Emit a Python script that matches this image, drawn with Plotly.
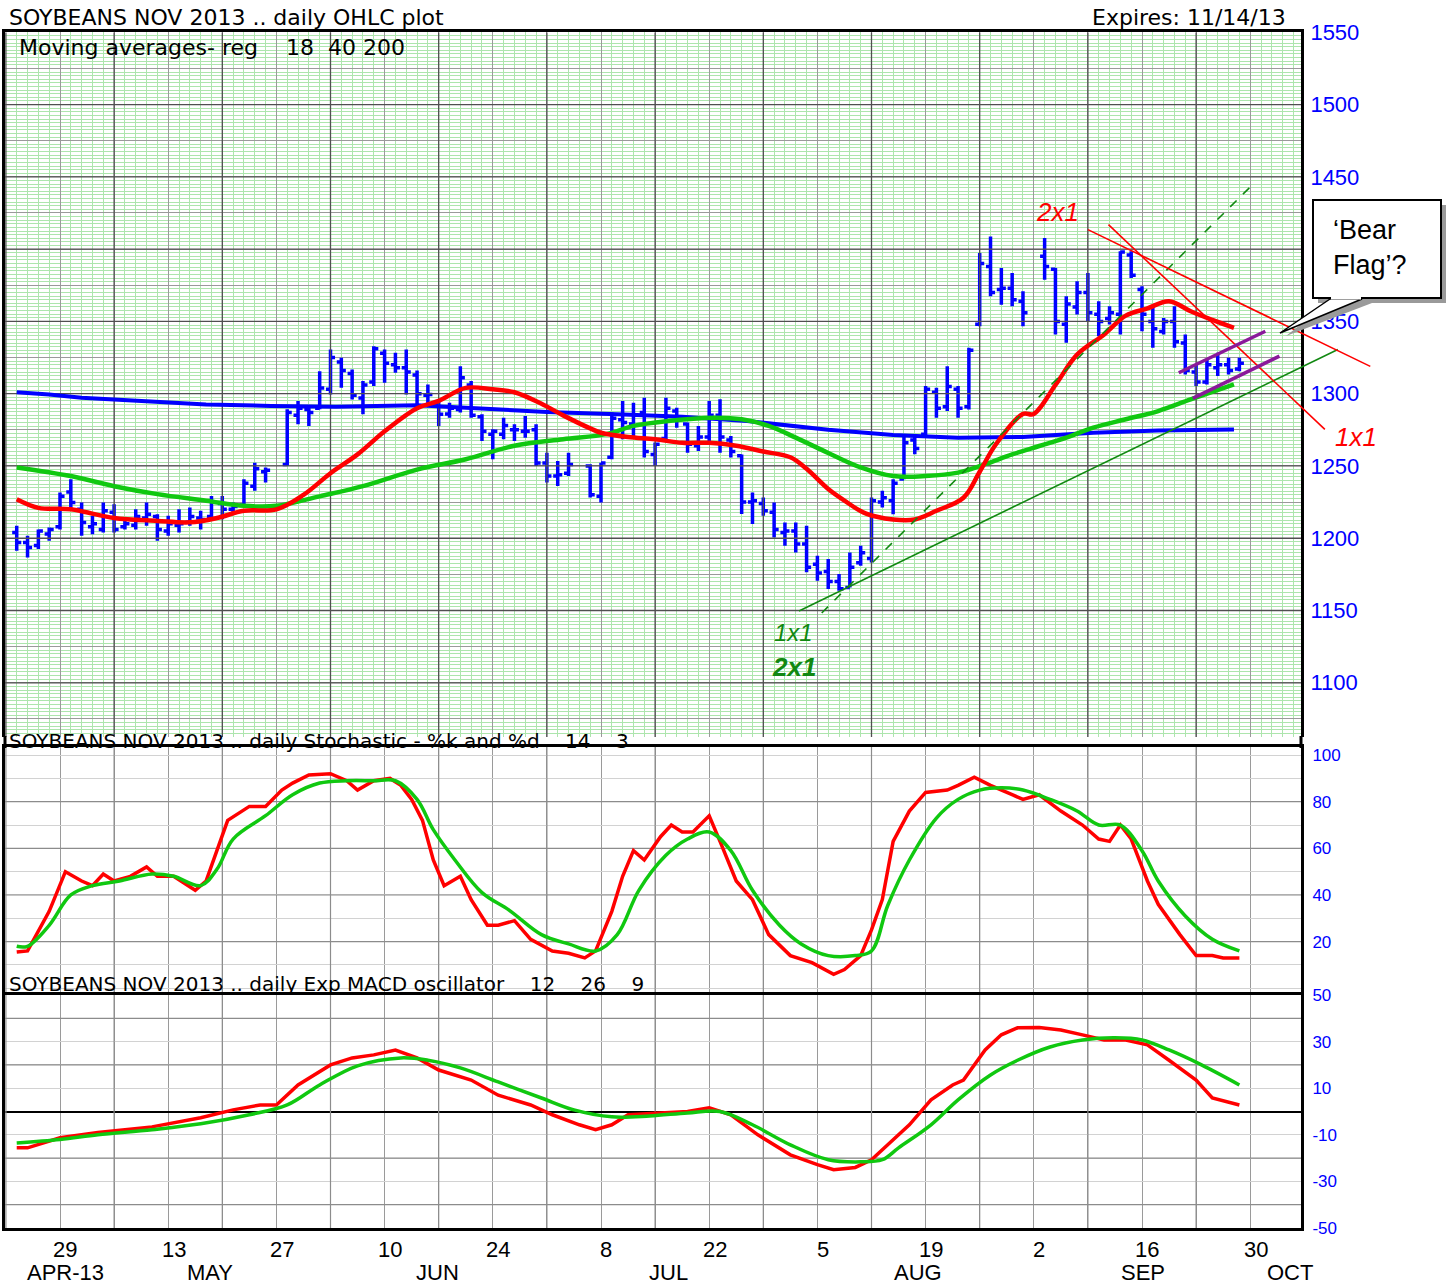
import numpy as np
import plotly.graph_objects as go

# ---------------- data ----------------
bar_dates = [
    "2013-04-23", "2013-04-24", "2013-04-25", "2013-04-26", "2013-04-29", "2013-04-30", "2013-05-01", "2013-05-02",
    "2013-05-03", "2013-05-06", "2013-05-07", "2013-05-08", "2013-05-09", "2013-05-10", "2013-05-13", "2013-05-14",
    "2013-05-15", "2013-05-16", "2013-05-17", "2013-05-20", "2013-05-21", "2013-05-22", "2013-05-23", "2013-05-24",
    "2013-05-28", "2013-05-29", "2013-05-30", "2013-05-31", "2013-06-03", "2013-06-04", "2013-06-05", "2013-06-06",
    "2013-06-07", "2013-06-10", "2013-06-11", "2013-06-12", "2013-06-13", "2013-06-14", "2013-06-17", "2013-06-18",
    "2013-06-19", "2013-06-20", "2013-06-21", "2013-06-24", "2013-06-25", "2013-06-26", "2013-06-27", "2013-06-28",
    "2013-07-01", "2013-07-02", "2013-07-03", "2013-07-05", "2013-07-08", "2013-07-09", "2013-07-10", "2013-07-11",
    "2013-07-12", "2013-07-15", "2013-07-16", "2013-07-17", "2013-07-18", "2013-07-19", "2013-07-22", "2013-07-23",
    "2013-07-24", "2013-07-25", "2013-07-26", "2013-07-29", "2013-07-30", "2013-07-31", "2013-08-01", "2013-08-02",
    "2013-08-05", "2013-08-06", "2013-08-07", "2013-08-08", "2013-08-09", "2013-08-12", "2013-08-13", "2013-08-14",
    "2013-08-15", "2013-08-16", "2013-08-19", "2013-08-20", "2013-08-21", "2013-08-22", "2013-08-23", "2013-08-26",
    "2013-08-27", "2013-08-28", "2013-08-29", "2013-08-30", "2013-09-03", "2013-09-04", "2013-09-05", "2013-09-06",
    "2013-09-09", "2013-09-10", "2013-09-11", "2013-09-12", "2013-09-13", "2013-09-16", "2013-09-17", "2013-09-18",
    "2013-09-19", "2013-09-20", "2013-09-23", "2013-09-24", "2013-09-25", "2013-09-26", "2013-09-27",
]
bar_open = [
    1204, 1197, 1195, 1203, 1208, 1232, 1220, 1208, 1206, 1218, 1208, 1209, 1214, 1215, 1205, 1209,
    1211, 1214, 1215, 1224, 1220, 1223, 1236, 1246, 1251, 1285, 1289, 1290, 1303, 1322, 1314, 1297,
    1308, 1328, 1320, 1318, 1313, 1299, 1293, 1286, 1289, 1306, 1284, 1272, 1272, 1275, 1274, 1275,
    1252, 1243, 1245, 1250, 1229, 1256, 1282, 1279, 1287, 1258, 1269, 1288, 1279, 1264, 1270, 1285,
    1268, 1257, 1225, 1224, 1218, 1204, 1205, 1196, 1182, 1177, 1170, 1166, 1183, 1186, 1225, 1226,
    1241, 1268, 1272, 1301, 1291, 1303, 1291, 1348, 1388, 1372, 1373, 1364, 1395, 1386, 1348, 1360,
    1370, 1355, 1352, 1355, 1396, 1372, 1350, 1343, 1350, 1335, 1315, 1308, 1318, 1320, 1317,
]
bar_high = [
    1208.6, 1201.7, 1206.0, 1207.4, 1231.6, 1240.8, 1224.7, 1215.5, 1224.7, 1223.5, 1212.0, 1220.0, 1224.7, 1216.6, 1215.5, 1220.0,
    1221.2, 1219.0, 1229.3, 1229.3, 1224.7, 1240.8, 1252.3, 1248.9, 1289.2, 1294.9, 1291.5, 1315.6, 1330.6, 1324.8, 1316.8, 1308.7,
    1332.9, 1330.6, 1328.3, 1330.6, 1316.0, 1306.4, 1294.9, 1293.8, 1319.0, 1308.7, 1285.7, 1275.4, 1283.4, 1278.8, 1284.6, 1278.8,
    1259.2, 1253.5, 1259.2, 1251.2, 1252.3, 1286.9, 1294.9, 1293.8, 1297.2, 1266.2, 1297.2, 1290.3, 1280.0, 1277.7, 1294.9, 1296.1,
    1270.8, 1258.0, 1231.6, 1228.2, 1224.7, 1210.9, 1210.9, 1208.6, 1187.9, 1185.6, 1175.2, 1190.2, 1194.8, 1228.2, 1232.8, 1240.8,
    1270.7, 1270.7, 1305.3, 1304.1, 1319.0, 1305.3, 1331.7, 1397.3, 1408.8, 1387.0, 1383.5, 1370.9, 1407.7, 1387.0, 1367.4, 1377.8,
    1383.5, 1364.0, 1360.5, 1398.5, 1398.5, 1374.3, 1360.5, 1352.4, 1360.5, 1340.9, 1320.2, 1323.7, 1328.3, 1324.8, 1324.8,
]
bar_low = [
    1191.3, 1186.7, 1192.5, 1198.2, 1206.0, 1220.0, 1201.7, 1202.8, 1204.0, 1204.0, 1206.0, 1206.0, 1208.6, 1198.2, 1201.7, 1204.0,
    1208.6, 1206.0, 1213.2, 1213.2, 1217.8, 1222.4, 1232.8, 1238.5, 1250.0, 1278.8, 1277.6, 1289.2, 1299.5, 1304.1, 1296.0, 1285.7,
    1305.3, 1307.6, 1314.5, 1299.5, 1291.5, 1292.6, 1277.7, 1283.4, 1286.9, 1283.4, 1267.3, 1254.6, 1268.5, 1267.3, 1269.6, 1250.0,
    1238.5, 1236.2, 1243.1, 1228.2, 1224.7, 1254.6, 1268.5, 1270.8, 1255.8, 1250.0, 1268.5, 1276.5, 1259.2, 1260.4, 1267.3, 1259.2,
    1255.8, 1216.7, 1209.8, 1215.5, 1200.5, 1194.8, 1190.2, 1176.4, 1170.6, 1164.9, 1163.7, 1166.0, 1180.9, 1183.3, 1221.2, 1216.6,
    1240.8, 1258.1, 1270.7, 1283.4, 1288.0, 1283.4, 1289.1, 1346.7, 1367.4, 1361.6, 1360.5, 1346.7, 1378.9, 1341.0, 1335.2, 1354.7,
    1350.1, 1339.8, 1347.8, 1340.9, 1380.1, 1343.2, 1331.7, 1340.9, 1331.7, 1313.3, 1305.3, 1306.4, 1312.2, 1313.3, 1315.6,
]
bar_close = [
    1197, 1193.6, 1205, 1206, 1229, 1224.7, 1210.9, 1210, 1219, 1206, 1210, 1215, 1216.6, 1206, 1210, 1210,
    1215, 1213, 1225, 1220, 1222, 1238, 1248, 1247, 1287, 1290, 1287, 1304, 1325, 1316, 1299, 1306,
    1331, 1321, 1318, 1315, 1300, 1299.5, 1285.7, 1290, 1311, 1285, 1274, 1274, 1278, 1275, 1274, 1252,
    1243, 1244, 1251, 1230, 1252, 1283, 1280, 1285, 1260, 1265, 1290, 1282, 1265, 1270, 1285, 1270,
    1260, 1225, 1226, 1219, 1206, 1205, 1196, 1180, 1176, 1170, 1165, 1180, 1190, 1226, 1228, 1238,
    1266, 1262, 1303, 1290, 1305, 1290, 1330, 1390, 1370, 1373, 1365, 1356, 1388, 1350, 1362, 1370,
    1356, 1350, 1356, 1398, 1382, 1355, 1345, 1350, 1336, 1316, 1308, 1320, 1320, 1316, 1321,
]

# moving averages (trading-day index, Apr 22 2013 = 0)
ma18_day = [1, 3, 6, 10, 14, 17, 19.5, 22, 25, 27.5, 30, 32.5, 35, 38, 40, 42.5, 45, 47, 49.5, 51.5, 54, 55,
            57.5, 60, 62.5, 65, 67.5, 70, 72.5, 74, 76, 77.5, 79.5, 82, 84, 86, 88.5, 90, 91.5, 94, 95, 97, 99,
            101.5, 103.5, 105.5, 107.5, 109.5, 111.5, 113.5]
ma18_val = [1227, 1221, 1220, 1214, 1212, 1211, 1214, 1219, 1220, 1230, 1245, 1258, 1274, 1290, 1295, 1304, 1303,
            1301, 1293, 1285, 1276, 1273, 1270, 1268.5, 1266, 1266, 1264, 1260, 1256, 1248, 1234, 1226, 1217, 1213,
            1213, 1219, 1228, 1246, 1265, 1286, 1286, 1306, 1327, 1341, 1354, 1359, 1364, 1357, 1351, 1345.5]
ma40_day = [1, 6, 10, 14, 18.5, 22, 25, 29, 33, 38, 42.5, 47, 51.5, 55.5, 58, 61, 65.5, 68, 70.5, 73, 76, 79,
            82, 85, 88, 90.5, 93, 95.5, 98, 100.5, 103.5, 106.5, 109.5, 113.5]
ma40_val = [1249, 1243, 1236, 1230.5, 1226, 1222.4, 1222.4, 1229, 1236, 1247.5, 1254.6, 1264, 1268.5, 1272,
            1277.7, 1281, 1283.4, 1282.3, 1277.7, 1269.6, 1259, 1249, 1243, 1243, 1245.4, 1251.2, 1258, 1263.8,
            1269.6, 1276.5, 1282.3, 1288, 1296, 1306.4]
ma200_day = [1, 4, 7, 10, 14, 18.5, 24.5, 30.5, 38, 44, 50, 56.5, 62.5, 68.5, 73, 76, 82, 88, 94, 100.5,
             106.5, 113.5]
ma200_val = [1301, 1299.5, 1297.2, 1296, 1294.2, 1292.6, 1291.5, 1291, 1292, 1289.6, 1287.3, 1285.7, 1284.1,
             1281.1, 1277.7, 1275, 1271.4, 1269.6, 1270, 1273, 1274.6, 1275.3]

# stochastic %K / %D
stk_day = [1, 2, 4, 5.5, 7, 8, 9, 10, 11.5, 13, 14, 15.5, 17.5, 18.5, 19.5, 20.5, 22.5, 24, 25.5, 26.5,
           28, 30, 31.5, 32.5, 34, 35.5, 36.5, 37.5, 38.5, 39.5, 40.5, 42, 43, 44.5, 45.5, 47, 48.5, 50.5, 52, 53.5,
           54.5, 56, 57, 58, 59, 60.5, 61.5, 62.5, 63.5, 65, 66, 67.5, 69, 70.5, 72.5, 74.5, 76.5, 77.5, 79, 80,
           81, 82, 83.5, 85, 87, 88, 89.5, 91, 93, 94, 95.5, 97.5, 99.5, 101, 102, 103, 104, 105.5, 106.5, 108.5,
           110, 111.5, 112.5, 114]
stk_val = [15.5, 16, 33, 50, 46, 44, 49, 46, 48, 52, 48, 48, 42, 46, 59, 72, 78, 78, 85, 88,
           91.5, 92, 89, 85, 89, 90, 87, 81, 72, 55, 44, 48, 38, 27, 27, 29, 21, 16, 15, 13,
           16, 33, 48, 59, 55, 65, 70, 67, 67, 74, 63, 46, 38, 23, 14, 11, 6, 8, 14, 25,
           38, 63, 76, 84, 85, 87, 90.5, 87, 83, 81, 83, 76, 70, 64, 63, 70, 64, 46, 36, 23,
           14, 14, 13, 13]
std_day = [1, 2, 4, 6, 8, 10.5, 13.5, 15.5, 18, 19.5, 21, 24, 26.5, 29, 31.5, 34, 36, 38, 39.5, 41.5, 44,
           46.5, 49.5, 52, 54.5, 56.5, 58.5, 61, 63, 65, 67, 69, 71.5, 73.5, 76, 78.5, 80, 81.5, 83.5, 86, 88, 90,
           92, 94, 96.5, 99, 101, 103, 105, 106.5, 109, 111.5, 114]
std_val = [18, 18, 27, 40, 44, 46, 49, 48, 44, 51, 64, 74, 83, 88, 89, 89, 89, 81, 68, 55, 41,
           33.5, 23, 19, 16, 23, 42, 57, 64, 67, 59, 42, 27, 19, 14, 14, 16, 35.5, 55, 73, 81, 85,
           86, 85, 81, 76, 70, 70, 59, 46, 31, 21, 16]

# MACD / signal
macd_day = [1, 2, 5, 8.5, 13.5, 18, 21, 23.5, 25, 27, 30, 32, 34, 36, 38, 40, 43, 45.5, 48.5, 50.5, 53, 54.5,
            56, 57.5, 60.5, 63, 65, 67, 69.5, 72.5, 75, 76.5, 78.5, 80, 81.5, 83.5, 85.5, 87.5, 88.5, 90.5, 92,
            93.5, 95.5, 97.5, 99.5, 101.5, 103.5, 105.5, 107.5, 110, 111.5, 114]
macd_val = [-15.6, -15.6, -11.3, -9, -6.6, -2.7, 0.7, 2.8, 2.8, 11.4, 20, 23, 24.3, 26.4, 23, 17.8, 13.5, 7,
            2.8, -1.4, -5.7, -7.8, -5.7, -1.4, -0.6, 0, 1.6, -1.4, -10, -18.6, -22.8, -25, -24, -20.7, -14.3,
            -5.7, 5, 11.4, 13.5, 26.4, 32.9, 35.9, 36, 35, 32.9, 30.7, 30.7, 28.6, 22, 13.5, 5.8, 2.8]
sig_day = [1, 5, 8.5, 13.5, 18, 22.5, 26, 29, 32.5, 36.5, 39, 42, 45.5, 49.5, 52.5, 56, 59.5, 63, 66, 69,
           72.5, 76, 79, 81, 82.5, 85.5, 88, 91, 93.5, 96.5, 99.5, 102.5, 105, 107.5, 110.5, 114]
sig_val = [-13.5, -12, -10, -7.8, -5.3, -1.4, 2.8, 11.4, 19.6, 23, 22, 18.7, 12.7, 5.8, 0.7, -2.3, -1.9,
           -0.6, 0, -5.7, -14.3, -20.7, -21.6, -20.7, -15.6, -5.7, 5, 15.7, 22, 27.7, 30.7, 31.6, 30.7, 26.4,
           20, 11.4]

# trend-line annotations (trading-day index, price)
green_2x1_day = [75.4, 115.0]
green_2x1_val = [1148.3, 1443.0]
green_1x1_day = [73.3, 123.1]
green_1x1_val = [1149.7, 1330.6]
red_2x1_day = [100.0, 126.1]
red_2x1_val = [1413.5, 1318.9]
red_1x1_day = [101.9, 121.9]
red_1x1_val = [1416.9, 1275.3]
flag_top_day = [108.4, 116.4]
flag_top_val = [1314.5, 1343.2]
flag_bot_day = [109.7, 117.7]
flag_bot_val = [1296.8, 1326.0]

# axis labels
day_tick_pos = [5, 15, 25, 35, 45, 55, 65, 75, 85, 95, 105, 115]
day_tick_text = ["29", "13", "27", "10", "24", "8", "22", "5", "19", "2", "16", "30"]
month_pos = [5.5, 18.9, 39.9, 61.2, 84.3, 105.1, 118.7]
month_text = ["APR-13", "MAY", "JUN", "JUL", "AUG", "SEP", "OCT"]
price_ticks = [1100, 1150, 1200, 1250, 1300, 1350, 1450, 1500, 1550]   # 1400 is hidden by the callout
stoch_ticks = [20, 40, 60, 80, 100]
macd_ticks = [-50, -30, -10, 10, 30, 50]

# ---------------- geometry ----------------
W, H = 1448, 1287
ML = 5
PX_DAY = 10.82
X0 = (ML - 5.9) / PX_DAY               # day value at left panel edge
X_PANEL_END = (1301 - 5.9) / PX_DAY     # day value at right panel border
X_FULL_END = X0 + (W - ML) / PX_DAY     # day value at right edge of the figure


def pxx(px):
    return (px - ML) / (W - ML)


def pyy(py):
    return 1 - py / H


price_dom = [pyy(737), pyy(32.3)]
stoch_dom = [pyy(995), pyy(746.7)]
macd_dom = [pyy(1228), pyy(995)]
x_dom = [0, pxx(1301)]
price_rng = [1062.5, 1550]
stoch_rng = [-2.9, 103.6]
macd_rng = [-50, 50]

FONT = "Liberation Sans, Arial, sans-serif"
HFONT = "DejaVu Sans, Liberation Sans, sans-serif"
GREEN_GRID = "#ade5ad"
GRAY_GRID = "#9a9a9a"
DARK_GRID = "#505050"
BLUE = "#0000ff"
RED = "#ff0000"
LGREEN = "#10c810"

bar_x = np.busday_count("2013-04-22", bar_dates)

fig = go.Figure()


def grid_trace(xs=None, ys=None, xr=None, yr=None, xa="x", ya="y", color=DARK_GRID, width=1.3):
    gx, gy = [], []
    if xs is not None:
        for v in xs:
            gx += [v, v, None]
            gy += [yr[0], yr[1], None]
    if ys is not None:
        for v in ys:
            gx += [xr[0], xr[1], None]
            gy += [v, v, None]
    return go.Scatter(x=gx, y=gy, mode="lines", line=dict(color=color, width=width),
                      xaxis=xa, yaxis=ya, hoverinfo="skip")


# darker grid lines (every other week / every 50 price units)
fig.add_trace(grid_trace(xs=list(range(0, 120, 10)), yr=price_rng, xa="x", ya="y"))
fig.add_trace(grid_trace(ys=list(range(1100, 1550, 50)), xr=[X0, X_PANEL_END], xa="x", ya="y"))
fig.add_trace(grid_trace(xs=list(range(0, 120, 10)), yr=stoch_rng, xa="x2", ya="y2", color="#8c8c8c", width=1.2))
fig.add_trace(grid_trace(ys=[20, 40, 60, 80], xr=[X0, X_PANEL_END], xa="x2", ya="y2", color="#8c8c8c", width=1.2))
fig.add_trace(grid_trace(xs=list(range(0, 120, 10)), yr=macd_rng, xa="x3", ya="y3", color="#8c8c8c", width=1.2))
fig.add_trace(grid_trace(ys=[-40, -20, 20, 40], xr=[X0, X_PANEL_END], xa="x3", ya="y3", color="#8c8c8c", width=1.2))

fig.add_trace(go.Ohlc(
    x=bar_x, open=bar_open, high=bar_high, low=bar_low, close=bar_close,
    increasing=dict(line=dict(color=BLUE, width=3.5)),
    decreasing=dict(line=dict(color=BLUE, width=3.5)),
    tickwidth=0.42, xaxis="x", yaxis="y", hoverinfo="skip"))

fig.add_trace(go.Scatter(x=ma200_day, y=ma200_val, mode="lines", line=dict(color=BLUE, width=4),
                         xaxis="x", yaxis="y"))
fig.add_trace(go.Scatter(x=ma40_day, y=ma40_val, mode="lines", line=dict(color=LGREEN, width=4.5, shape="spline"),
                         xaxis="x", yaxis="y"))
fig.add_trace(go.Scatter(x=ma18_day, y=ma18_val, mode="lines", line=dict(color=RED, width=4.5, shape="spline"),
                         xaxis="x", yaxis="y"))

fig.add_trace(go.Scatter(x=stk_day, y=stk_val, mode="lines", line=dict(color=RED, width=3.5),
                         xaxis="x2", yaxis="y2"))
fig.add_trace(go.Scatter(x=std_day, y=std_val, mode="lines", line=dict(color=LGREEN, width=3.5, shape="spline"),
                         xaxis="x2", yaxis="y2"))
fig.add_trace(go.Scatter(x=macd_day, y=macd_val, mode="lines", line=dict(color=RED, width=3.5),
                         xaxis="x3", yaxis="y3"))
fig.add_trace(go.Scatter(x=sig_day, y=sig_val, mode="lines", line=dict(color=LGREEN, width=3.5, shape="spline"),
                         xaxis="x3", yaxis="y3"))

# trend lines on a full-width overlay axis with the same scale (so they may run past the border)
for dx, dy, col, w, dash in [
    (green_2x1_day, green_2x1_val, "#118811", 1.6, "dash"),
    (green_1x1_day, green_1x1_val, "#118811", 1.6, "solid"),
    (red_2x1_day, red_2x1_val, RED, 1.6, "solid"),
    (red_1x1_day, red_1x1_val, RED, 1.6, "solid"),
    (flag_top_day, flag_top_val, "#8a1a9a", 3.5, "solid"),
    (flag_bot_day, flag_bot_val, "#8a1a9a", 3.5, "solid"),
]:
    fig.add_trace(go.Scatter(x=dx, y=dy, mode="lines", line=dict(color=col, width=w, dash=dash),
                             xaxis="x4", yaxis="y4"))

ybox = dict(showline=True, mirror=True, linecolor="black", linewidth=3, zeroline=False)
xbase = dict(range=[X0, X_PANEL_END], tickmode="linear", tick0=0, dtick=5, showticklabels=False,
             ticks="", showgrid=True, gridcolor=GRAY_GRID, gridwidth=1, zeroline=False,
             showline=True, linecolor="black", linewidth=3)

fig.update_layout(
    width=W, height=H,
    margin=dict(l=ML, r=0, t=0, b=0, autoexpand=False),
    paper_bgcolor="white", plot_bgcolor="rgba(0,0,0,0)",
    showlegend=False,
    font=dict(family=FONT, color="black"),
    xaxis=dict(domain=x_dom, anchor="y", side="top", mirror=False, rangeslider=dict(visible=False),
               minor=dict(tickmode="linear", tick0=0, dtick=1, showgrid=True, gridcolor=GREEN_GRID, gridwidth=1),
               **xbase),
    xaxis2=dict(domain=x_dom, anchor="y2", side="top", mirror=False, **xbase),
    xaxis3=dict(domain=x_dom, anchor="y3", mirror=True, **xbase),
    xaxis4=dict(domain=[0, 1], anchor="y4", range=[X0, X_FULL_END], visible=False),
    yaxis=dict(domain=price_dom, anchor="x", side="right", range=price_rng,
               tickmode="array", tickvals=list(np.arange(1075, 1551, 25)),
               ticktext=[str(v) if v in price_ticks else "" for v in np.arange(1075, 1551, 25)],
               tickfont=dict(color=BLUE, size=22), ticks="", ticklabelstandoff=2,
               showgrid=True, gridcolor=GRAY_GRID, gridwidth=1,
               minor=dict(tickmode="linear", tick0=0, dtick=2.5, showgrid=True, gridcolor=GREEN_GRID, gridwidth=1),
               **ybox),
    yaxis2=dict(domain=stoch_dom, anchor="x2", side="right", range=stoch_rng,
                tickmode="array", tickvals=list(range(0, 101, 10)),
                ticktext=[str(v) if v in stoch_ticks else "" for v in range(0, 101, 10)],
                tickfont=dict(color=BLUE, size=17), ticks="", ticklabelstandoff=5,
                showgrid=True, gridcolor="#d2d2d2", gridwidth=1, **ybox),
    yaxis3=dict(domain=macd_dom, anchor="x3", side="right", range=macd_rng,
                tickmode="array", tickvals=list(range(-50, 51, 10)),
                ticktext=[("-" + str(-v) if v < 0 else str(v)) if v in macd_ticks else "" for v in range(-50, 51, 10)],
                tickfont=dict(color=BLUE, size=17), ticks="", ticklabelstandoff=5,
                showgrid=True, gridcolor="#d2d2d2", gridwidth=1, **ybox),
    yaxis4=dict(domain=price_dom, anchor="x4", range=price_rng, visible=False),
)
# MACD zero line
fig.layout.yaxis3.zeroline = True
fig.layout.yaxis3.zerolinecolor = "black"
fig.layout.yaxis3.zerolinewidth = 2

shapes = []
# side borders continue through the title strip between the price and stochastic panels
for bx in [5, 1301]:
    shapes.append(dict(type="line", xref="paper", yref="paper", layer="above",
                       x0=pxx(bx), x1=pxx(bx), y0=pyy(748), y1=pyy(736),
                       line=dict(color="black", width=3)))
# callout box with shadow and pointer
shapes.append(dict(type="path", xref="paper", yref="paper", layer="above",
                   path=f"M {pxx(1328)},{pyy(303)} L {pxx(1286)},{pyy(336)} L {pxx(1372)},{pyy(303)} Z",
                   fillcolor="#9a9a9a", line=dict(width=0)))
shapes.append(dict(type="rect", xref="paper", yref="paper", layer="above",
                   x0=pxx(1318), x1=pxx(1446), y0=pyy(303), y1=pyy(205),
                   fillcolor="#9a9a9a", line=dict(width=0)))
shapes.append(dict(type="rect", xref="paper", yref="paper", layer="above",
                   x0=pxx(1313), x1=pxx(1441), y0=pyy(298), y1=pyy(200),
                   fillcolor="white", line=dict(color="black", width=2)))
shapes.append(dict(type="path", xref="paper", yref="paper", layer="above",
                   path=f"M {pxx(1330)},{pyy(299)} L {pxx(1280)},{pyy(333)} L {pxx(1362)},{pyy(299)} Z",
                   fillcolor="white", line=dict(color="black", width=1.5)))
shapes.append(dict(type="line", xref="paper", yref="paper", layer="above",
                   x0=pxx(1331), x1=pxx(1361), y0=pyy(298), y1=pyy(298),
                   line=dict(color="white", width=3)))
fig.update_layout(shapes=shapes)

ann = []
ann.append(dict(text="SOYBEANS NOV 2013 .. daily OHLC plot", xref="paper", yref="paper", x=pxx(7), y=pyy(18),
                xanchor="left", yanchor="middle", showarrow=False, font=dict(size=22, family=HFONT)))
ann.append(dict(text="Expires: 11/14/13", xref="paper", yref="paper", x=pxx(1288), y=pyy(18),
                xanchor="right", yanchor="middle", showarrow=False, font=dict(size=22, family=HFONT)))
ann.append(dict(text="Moving averages- reg    18  40 200", xref="paper", yref="paper", x=pxx(17), y=pyy(47),
                xanchor="left", yanchor="middle", showarrow=False, font=dict(size=22, family=HFONT)))
ann.append(dict(text="SOYBEANS NOV 2013 .. daily Stochastic - %k and %d    14    3", xref="paper",
                yref="paper", x=pxx(7), y=pyy(741), xanchor="left", yanchor="middle", showarrow=False,
                font=dict(size=20, family=HFONT)))
ann.append(dict(text="SOYBEANS NOV 2013 .. daily Exp MACD oscillator    12    26    9", xref="paper",
                yref="paper", x=pxx(7), y=pyy(984), xanchor="left", yanchor="middle", showarrow=False,
                font=dict(size=20, family=HFONT)))
for d, t in zip(day_tick_pos, day_tick_text):
    ann.append(dict(text=t, xref="x3", yref="paper", x=d + 0.5, y=pyy(1249), xanchor="center", yanchor="middle",
                    showarrow=False, font=dict(size=22)))
for d, t in zip(month_pos, month_text):
    ann.append(dict(text=t, xref="x4", yref="paper", x=d, y=pyy(1272), xanchor="center", yanchor="middle",
                    showarrow=False, font=dict(size=22)))
# callout text
ann.append(dict(text="\u2018Bear<br>Flag\u2019?", xref="paper", yref="paper", x=pxx(1331), y=pyy(247),
                xanchor="left", yanchor="middle", align="left", showarrow=False,
                font=dict(size=27, family="Liberation Sans, Arial")))
# trend line labels
ann.append(dict(text="<i>2x1</i>", xref="x4", yref="y4", x=97.2, y=1426, showarrow=False,
                font=dict(size=26, color=RED)))
ann.append(dict(text="<i>1x1</i>", xref="x4", yref="y4", x=124.8, y=1270, showarrow=False,
                font=dict(size=26, color=RED)))
ann.append(dict(text="<i>1x1</i>", xref="x4", yref="y4", x=72.8, y=1135, showarrow=False,
                font=dict(size=24, color="#118811")))
ann.append(dict(text="<b><i>2x1</i></b>", xref="x4", yref="y4", x=72.8, y=1111, showarrow=False,
                font=dict(size=26, color="#118811")))
fig.update_layout(annotations=ann)

fig.write_html("out.html", config={"displayModeBar": False},
               post_script="document.body.style.margin='0px';")
